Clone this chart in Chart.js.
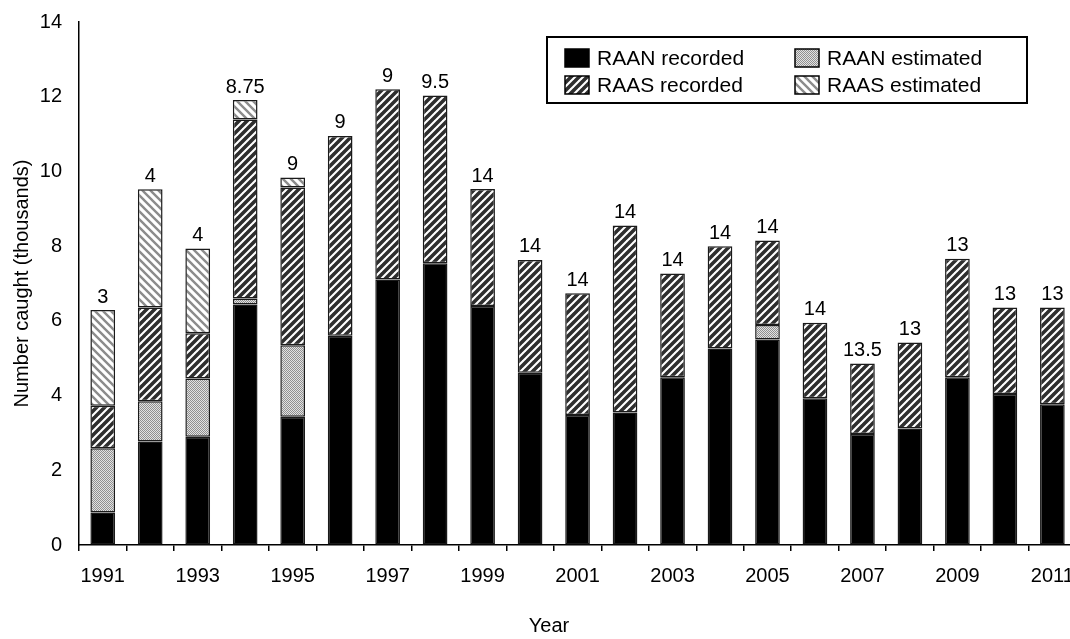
<!DOCTYPE html>
<html>
<head>
<meta charset="utf-8">
<script src="https://cdn.jsdelivr.net/npm/chart.js@4.4.1/dist/chart.umd.min.js"></script>
<style>
  html, body { margin: 0; padding: 0; background: #fff; overflow: hidden; }
  #wrap { width: 1070px; height: 639px; overflow: hidden; }
</style>
</head>
<body>
<div id="wrap"><canvas id="grafico" width="1087" height="639"></canvas></div>
<script>
// dados (milhares)
const anos = ['1991','1992','1993','1994','1995','1996','1997','1998','1999','2000','2001',
              '2002','2003','2004','2005','2006','2007','2008','2009','2010','2011'];
const raanRecorded  = [0.87, 2.77, 2.90, 6.44, 3.43, 5.60, 7.11, 7.54, 6.40, 4.61, 3.48,
                       3.55, 4.49, 5.26, 5.50, 3.93, 2.97, 3.12, 4.49, 4.04, 3.77];
const raanEstimated = [1.72, 1.08, 1.56, 0.16, 1.92, null, null, null, null, null, null,
                       null, null, null, 0.39, null, null, null, null, null, null];
const raasRecorded  = [1.14, 2.51, 1.21, 4.79, 4.22, 5.35, 5.09, 4.49, 3.13, 3.02, 3.26,
                       5.00, 2.78, 2.74, 2.26, 2.02, 1.89, 2.30, 3.17, 2.32, 2.59];
const raasEstimated = [2.56, 3.16, 2.27, 0.52, 0.27, null, null, null, null, null, null,
                       null, null, null, null, null, null, null, null, null, null];
const rotulos = ['3','4','4','8.75','9','9','9','9.5','14','14','14',
                 '14','14','14','14','14','13.5','13','13','13','13'];

const fonte = 'Liberation Sans, Arial, sans-serif';

// padroes de preenchimento
function listras(cor, largura, direcao) {
  const c = document.createElement('canvas');
  c.width = 8; c.height = 8;
  const g = c.getContext('2d');
  g.fillStyle = '#fff';
  g.fillRect(0, 0, 8, 8);
  g.strokeStyle = cor;
  g.lineWidth = largura;
  g.beginPath();
  for (let k = -1; k <= 1; k++) {
    if (direcao === '/') {
      g.moveTo(k * 8 - 1, 9); g.lineTo(k * 8 + 9, -1);
    } else {
      g.moveTo(k * 8 - 1, -1); g.lineTo(k * 8 + 9, 9);
    }
  }
  g.stroke();
  return g.createPattern(c, 'repeat');
}

function pontilhado() {
  const c = document.createElement('canvas');
  c.width = 2; c.height = 2;
  const g = c.getContext('2d');
  g.fillStyle = '#e2e2e2';
  g.fillRect(0, 0, 2, 2);
  g.fillStyle = '#909090';
  g.fillRect(0, 0, 1, 1);
  g.fillRect(1, 1, 1, 1);
  return g.createPattern(c, 'repeat');
}

const corRaanRec = '#000';
const corRaanEst = pontilhado();
const corRaasRec = listras('#2e2e2e', 3.6, '/');
const corRaasEst = listras('#8c8c8c', 2.4, '\\');

// rotulos acima das barras
const rotulosPlugin = {
  id: 'rotulos',
  afterDatasetsDraw(chart) {
    const ctx = chart.ctx;
    const y = chart.scales.y;
    const x = chart.scales.x;
    ctx.save();
    ctx.font = '20px ' + fonte;
    ctx.fillStyle = '#000';
    ctx.textAlign = 'center';
    ctx.textBaseline = 'bottom';
    for (let i = 0; i < anos.length; i++) {
      const total = (raanRecorded[i] || 0) + (raanEstimated[i] || 0) +
                    (raasRecorded[i] || 0) + (raasEstimated[i] || 0);
      ctx.fillText(rotulos[i], x.getPixelForValue(i), y.getPixelForValue(total) - 3);
    }
    // titulo do eixo x (centrado na janela visivel, como no original)
    ctx.textBaseline = 'middle';
    ctx.fillText('Year', 549, 626);
    ctx.restore();
  }
};

// legenda em caixa
const legendaPlugin = {
  id: 'legendaCaixa',
  afterDraw(chart) {
    const ctx = chart.ctx;
    ctx.save();
    ctx.lineWidth = 2;
    ctx.strokeStyle = '#000';
    ctx.strokeRect(547, 37, 480, 66);
    const itens = [
      { txt: 'RAAN recorded', cor: corRaanRec, x: 565, y: 58 },
      { txt: 'RAAN estimated', cor: corRaanEst, x: 795, y: 58 },
      { txt: 'RAAS recorded', cor: corRaasRec, x: 565, y: 85 },
      { txt: 'RAAS estimated', cor: corRaasEst, x: 795, y: 85 }
    ];
    ctx.font = '21px ' + fonte;
    ctx.textBaseline = 'middle';
    ctx.textAlign = 'left';
    itens.forEach(function(it) {
      ctx.fillStyle = it.cor;
      ctx.fillRect(it.x, it.y - 9, 24, 18);
      ctx.lineWidth = 1.5;
      ctx.strokeRect(it.x, it.y - 9, 24, 18);
      ctx.fillStyle = '#000';
      ctx.fillText(it.txt, it.x + 32, it.y + 1);
    });
    ctx.restore();
  }
};

function serie(nome, valores, cor) {
  return {
    label: nome,
    data: valores,
    backgroundColor: cor,
    borderColor: '#1a1a1a',
    borderWidth: 1.5,
    borderSkipped: false,
    stack: 'a',
    categoryPercentage: 1.0,
    barPercentage: 0.52
  };
}

const ctx = document.getElementById('grafico').getContext('2d');
const grafico = new Chart(ctx, {
  type: 'bar',
  data: {
    labels: anos,
    datasets: [
      serie('RAAN recorded', raanRecorded, corRaanRec),
      serie('RAAN estimated', raanEstimated, corRaanEst),
      serie('RAAS recorded', raasRecorded, corRaasRec),
      serie('RAAS estimated', raasEstimated, corRaasEst)
    ]
  },
  options: {
    responsive: false,
    animation: false,
    devicePixelRatio: 1,
    layout: { padding: { top: 22, right: 5, left: 0, bottom: 0 } },
    plugins: {
      legend: { display: false },
      tooltip: { enabled: false }
    },
    scales: {
      x: {
        stacked: true,
        grid: { display: true, drawOnChartArea: false, drawTicks: true, tickLength: 6, color: '#000', lineWidth: 1.5 },
        border: { display: true, color: '#000', width: 1.5 },
        ticks: {
          autoSkip: false,
          maxRotation: 0,
          padding: 13,
          color: '#000',
          font: { family: fonte, size: 20 },
          callback: function(val, index) {
            return index % 2 === 0 ? this.getLabelForValue(val) : '';
          }
        },
        title: { display: false },
        afterFit: function(scale) { scale.height = 94; }
      },
      y: {
        stacked: true,
        min: 0,
        max: 14,
        // marcas invisiveis so para afastar os rotulos do eixo
        grid: { display: true, drawOnChartArea: false, drawTicks: true, tickLength: 14, color: 'rgba(0,0,0,0)' },
        border: { display: true, color: '#000', width: 1.5 },
        ticks: {
          stepSize: 2,
          padding: 3,
          color: '#000',
          font: { family: fonte, size: 20 }
        },
        title: {
          display: true,
          text: 'Number caught (thousands)',
          color: '#000',
          font: { family: fonte, size: 20 },
          padding: { top: 10, bottom: 0 }
        },
        afterFit: function(scale) { scale.width = 79; }
      }
    }
  },
  plugins: [rotulosPlugin, legendaPlugin]
});
</script>
</body>
</html>
